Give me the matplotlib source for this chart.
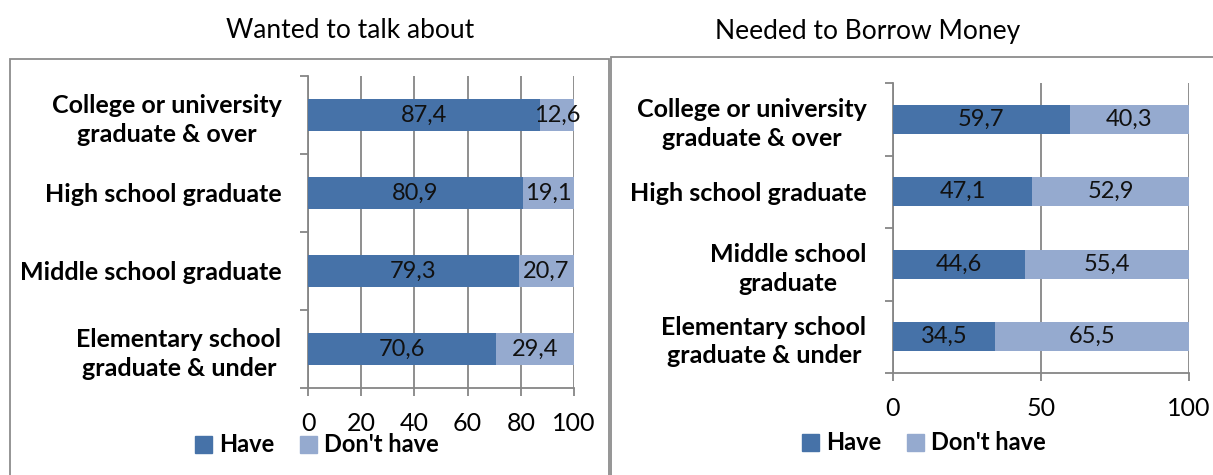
import matplotlib
matplotlib.use("Agg")
import matplotlib.pyplot as plt
from matplotlib.patches import Rectangle, Patch

plt.rcParams['font.family'] = ['Lato', 'DejaVu Sans']

# data
left_cats = ['College or university\ngraduate & over', 'High school graduate',
             'Middle school graduate', 'Elementary school\ngraduate & under']
right_cats = ['College or university\ngraduate & over', 'High school graduate',
              'Middle school\ngraduate', 'Elementary school\ngraduate & under']
talk_have = [87.4, 80.9, 79.3, 70.6]
talk_dont = [12.6, 19.1, 20.7, 29.4]
borrow_have = [59.7, 47.1, 44.6, 34.5]
borrow_dont = [40.3, 52.9, 55.4, 65.5]

C_HAVE = '#4672A8'
C_DONT = '#95AACF'
GRID = '#868686'
W, H = 1213, 475

fig = plt.figure(figsize=(W / 100, H / 100), dpi=100)


def fx(px):
    return px / W


def fy(py):
    return 1 - py / H


# panel frames
fig.patches.append(Rectangle((fx(10), fy(490)), fx(599), fy(59) - fy(490),
                             transform=fig.transFigure, fill=False,
                             edgecolor='#8c8c8c', lw=1.3))
fig.patches.append(Rectangle((fx(611), fy(490)), fx(620), fy(57) - fy(490),
                             transform=fig.transFigure, fill=False,
                             edgecolor='#8c8c8c', lw=1.3))


def panel(box, cats, have, dont, ticks, title, title_xy, legend_xy, pad_x):
    ax = fig.add_axes(box)
    n = len(cats)
    ypos = list(range(n))[::-1]
    ax.barh(ypos, have, height=0.4, color=C_HAVE, zorder=3)
    ax.barh(ypos, dont, left=have, height=0.4, color=C_DONT, zorder=3)
    for y, h, d in zip(ypos, have, dont):
        ax.text(h / 2, y, f'{h:.1f}'.replace('.', ','), ha='center', va='center',
                fontsize=17, color='#111111', zorder=4)
        ax.text(h + d / 2, y, f'{d:.1f}'.replace('.', ','), ha='center', va='center',
                fontsize=17, color='#111111', zorder=4)
    ax.set_xlim(0, 100)
    ax.set_ylim(-0.5, n - 0.5)
    ax.set_xticks(ticks)
    ax.set_xticklabels([str(t) for t in ticks], fontsize=18)
    ax.set_yticks([i - 0.5 for i in range(n + 1)])
    ax.set_yticklabels([])
    ax.set_yticks(ypos, minor=True)
    ax.set_yticklabels(cats, minor=True, fontsize=18, fontweight='bold',
                       multialignment='center', linespacing=1.3)
    ax.tick_params(axis='y', which='major', length=6, color=GRID, width=1.3)
    ax.tick_params(axis='y', which='minor', length=0, pad=pad_x)
    ax.tick_params(axis='x', length=6, color=GRID, width=1.3, pad=11)
    ax.grid(axis='x', color=GRID, lw=1.3, zorder=0)
    for s in ['top', 'right']:
        ax.spines[s].set_visible(False)
    for s in ['left', 'bottom']:
        ax.spines[s].set_color(GRID)
        ax.spines[s].set_linewidth(1.3)
    fig.text(fx(title_xy[0]), fy(title_xy[1]), title, ha='center', va='center',
             fontsize=19)
    handles = [Patch(color=C_HAVE, label='Have'), Patch(color=C_DONT, label="Don't have")]
    fig.legend(handles=handles, loc='center', bbox_to_anchor=(fx(legend_xy[0]), fy(legend_xy[1])),
               ncol=2, frameon=False, prop={'weight': 'bold', 'size': 17},
               handlelength=0.7, handleheight=0.7, handletextpad=0.3, columnspacing=1.1)
    return ax


panel([fx(308), fy(388), fx(574) - fx(308), fy(76) - fy(388)], left_cats,
      talk_have, talk_dont, [0, 20, 40, 60, 80, 100], 'Wanted to talk about',
      (350, 30), (317, 445), 19)
panel([fx(893), fy(373), fx(1189) - fx(893), fy(83) - fy(373)], right_cats,
      borrow_have, borrow_dont, [0, 50, 100], 'Needed to Borrow Money',
      (868, 32), (924, 443), 19)

fig.savefig('out.png', dpi=100)
